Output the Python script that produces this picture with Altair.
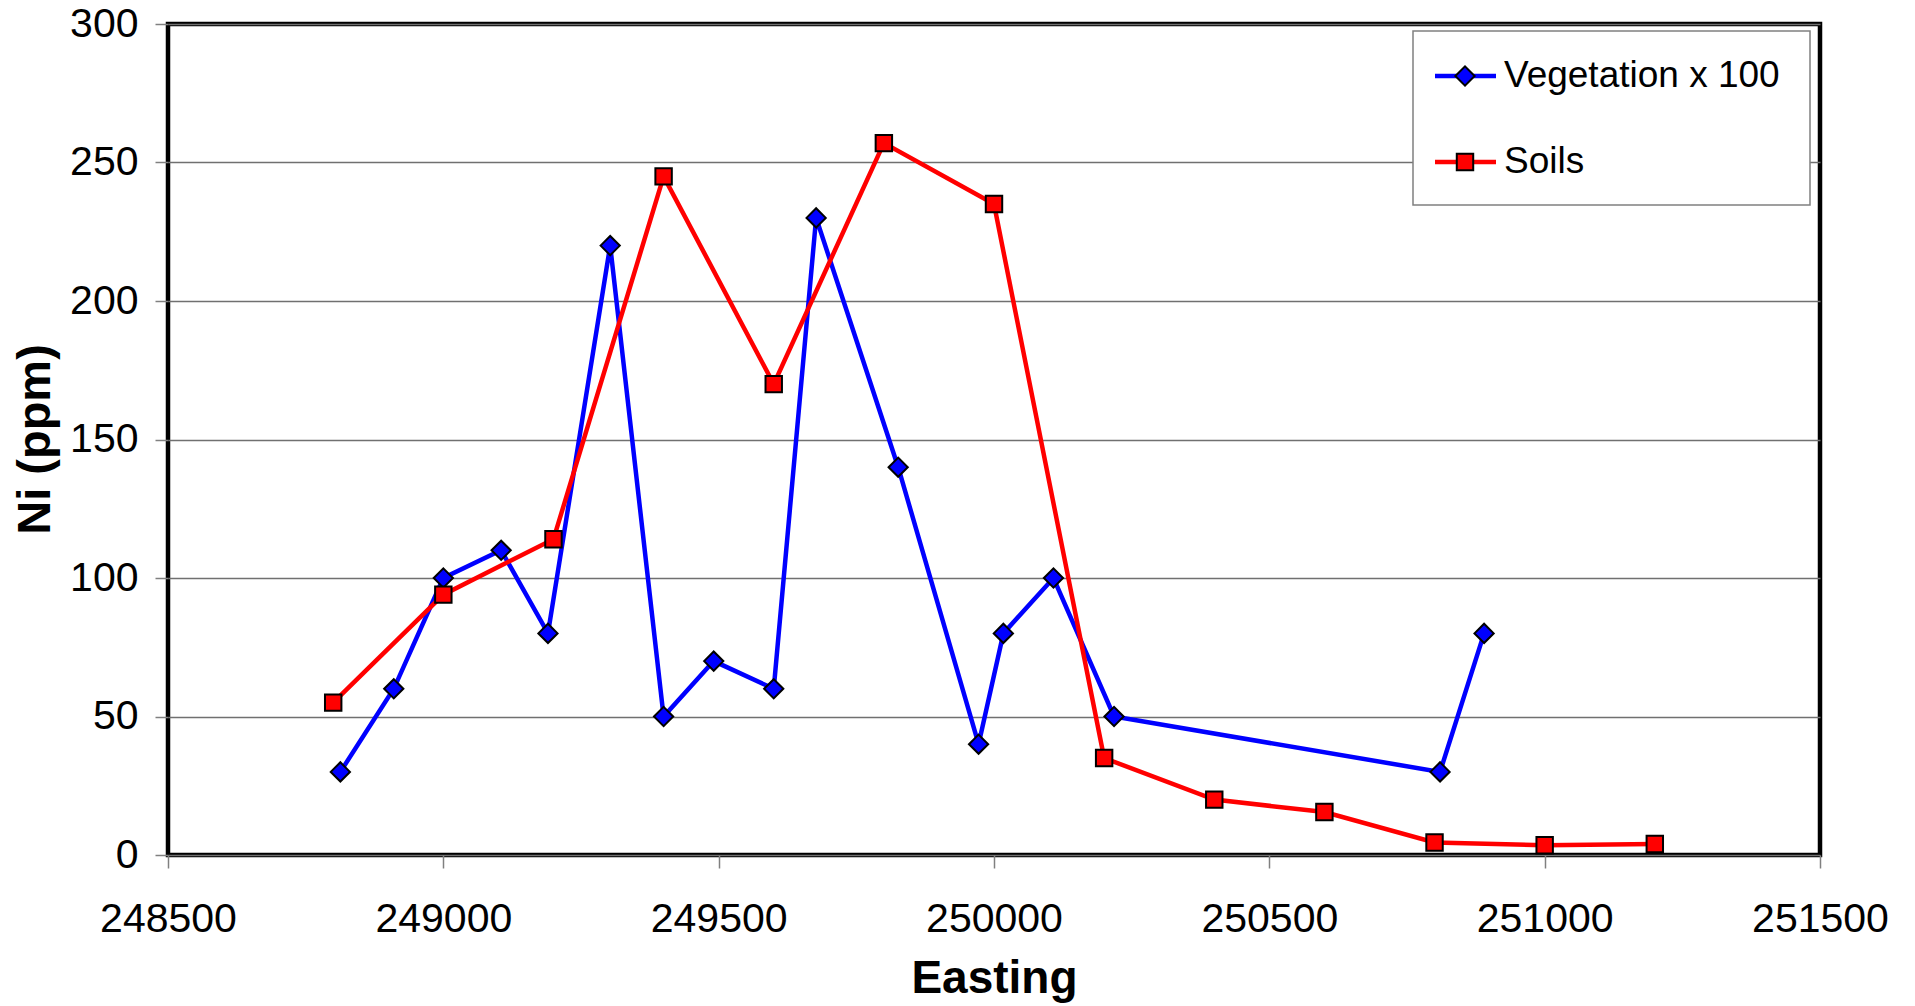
import altair as alt
import pandas as pd

# Data
veg_x = [248813, 248910, 249000, 249105, 249190, 249303, 249400, 249491, 249600,
         249677, 249826, 249972, 250017, 250108, 250218, 250810, 250890]
veg_y = [30, 60, 100, 110, 80, 220, 50, 70, 60, 230, 140, 40, 80, 100, 50, 30, 80]

soil_x = [248800, 249000, 249200, 249400, 249600, 249800, 250000, 250200, 250400,
          250600, 250800, 251000, 251200]
soil_y = [55, 94, 114, 245, 170, 257, 235, 35, 20, 15.5, 4.5, 3.5, 4]

series_names = ["Vegetation x 100", "Soils"]
series_colors = ["#0000FF", "#FF0000"]

x_ticks = [248500, 249000, 249500, 250000, 250500, 251000, 251500]
y_ticks = [0, 50, 100, 150, 200, 250, 300]

veg = pd.DataFrame({"Easting": veg_x, "Ni": veg_y, "series": series_names[0]})
soil = pd.DataFrame({"Easting": soil_x, "Ni": soil_y, "series": series_names[1]})

W, H = 1652, 831
FONT = "Liberation Sans"

xenc = alt.X("Easting:Q", scale=alt.Scale(domain=[248500, 251500], nice=False, zero=False),
             axis=alt.Axis(values=x_ticks, title="Easting", format="d", grid=False,
                           domain=False, tickColor="#808080", tickWidth=1.5, tickSize=13,
                           labelFont=FONT, labelFontSize=41, labelColor="black",
                           labelBaseline="alphabetic", labelPadding=63,
                           labelFlush=False, labelOverlap=False,
                           titleFont=FONT, titleFontSize=46, titleFontWeight="bold",
                           titleColor="black", titleBaseline="alphabetic",
                           titleX=W / 2, titleY=137, titleAlign="center"))
yenc = alt.Y("Ni:Q", scale=alt.Scale(domain=[0, 300], nice=False),
             axis=alt.Axis(values=y_ticks, title="Ni (ppm)", grid=True,
                           gridColor="#707070", gridWidth=1.5,
                           domain=False, tickColor="#808080", tickWidth=1.5, tickSize=13,
                           labelFont=FONT, labelFontSize=41, labelColor="black",
                           labelPadding=17, labelFlush=False, labelOverlap=False,
                           titleFont=FONT, titleFontSize=47, titleFontWeight="bold",
                           titleColor="black", titleBaseline="alphabetic",
                           titleAngle=270, titleX=-119, titleY=415, titleAlign="center"))


def series_layers(df, color, shape, size):
    line = alt.Chart(df).mark_line(color=color, strokeWidth=4.5).encode(x=xenc, y=yenc)
    pts = alt.Chart(df).mark_point(shape=shape, filled=True, fill=color, stroke="black",
                                   strokeWidth=2, size=size, opacity=1).encode(x=xenc, y=yenc)
    return [line, pts]


layers = []
layers += series_layers(veg, series_colors[0], "diamond", 370)
layers += series_layers(soil, series_colors[1], "square", 270)

# Legend (manual, Excel style: line + marker)
leg_df = pd.DataFrame({"name": series_names, "color": series_colors,
                       "shape": ["diamond", "square"], "ly": [52, 138],
                       "sz": [370, 270]})
legend_box = alt.Chart(pd.DataFrame({"a": [0]})).mark_rect(
    fill="white", stroke="#808080", strokeWidth=1.5).encode(
    x=alt.value(1245), x2=alt.value(1642), y=alt.value(7), y2=alt.value(181))
leg_lines = alt.Chart(leg_df).mark_rule(strokeWidth=4.5).encode(
    x=alt.value(1267), x2=alt.value(1328), y=alt.Y("ly:Q", scale=None),
    color=alt.Color("color:N", scale=None, legend=None))
leg_pts = alt.Chart(leg_df).mark_point(filled=True, stroke="black", strokeWidth=2,
                                       opacity=1).encode(
    x=alt.value(1297), y=alt.Y("ly:Q", scale=None),
    fill=alt.Fill("color:N", scale=None, legend=None),
    shape=alt.Shape("shape:N", scale=None, legend=None),
    size=alt.Size("sz:Q", scale=None, legend=None))
leg_text = alt.Chart(leg_df).mark_text(align="left", baseline="middle", font=FONT,
                                       fontSize=37, color="black").encode(
    x=alt.value(1336), y=alt.Y("ly:Q", scale=None), text="name:N")

chart = alt.layer(*layers, legend_box, leg_lines, leg_pts, leg_text).properties(
    width=W, height=H,
    autosize=alt.AutoSizeParams(type="none"),
    padding={"left": 160, "top": 16, "right": 80, "bottom": 150},
    background="white",
).configure_view(stroke="black", strokeWidth=4.5)

chart.save("out.html", embed_options={"renderer": "svg", "actions": False})
